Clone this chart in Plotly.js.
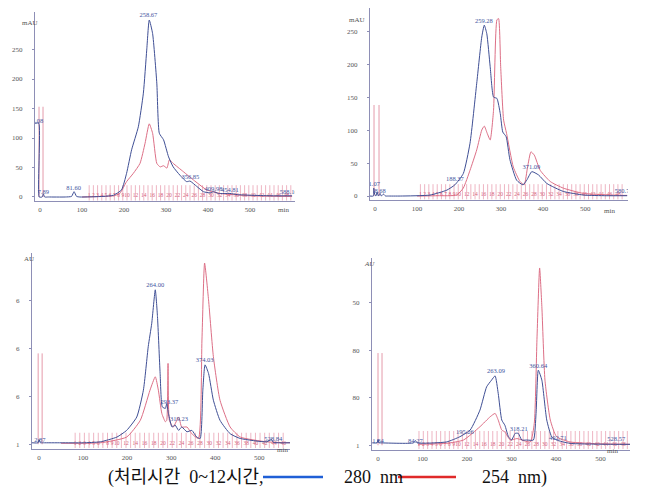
<!DOCTYPE html>
<html><head><meta charset="utf-8">
<script src="https://cdn.plot.ly/plotly-3.0.1.min.js"></script>
<style>html,body{margin:0;padding:0;background:#fff}#chart{width:648px;height:499px}</style>
</head><body><div id="chart"></div>
<script>
// ---------- data: panel 1 (top-left, mAU) ----------
const p1_t_blue = [-12,-3,-2,5,8,11,20,60,75,81,87,95,150,175,194,206,218,234,246,254,260,268,278,284,294,306,317,333,349,357,373,389,405,413,425,452,470,500,550,600];
const p1_v_blue = [125,125,0,0,5,0,0,0,1,9,1,0,1,3,12,40,80,119,176,249,300,277,193,108,97,68,51,37,26,27,18,9,7,9,6,6,4,3,2,2];
const p1_t_red  = [100,150,175,190,206,222,238,250,260,268,278,286,294,302,308,317,341,365,397,429,500,600];
const p1_v_red  = [0,1,2,6,26,40,57,91,124,108,57,51,53,49,63,57,43,29,12,6,2,1];
const p1_peak_t = [-6,8,80,258,358,413,452,592];
const p1_peak_v = [122,2,9,302,28,8,6,3];
const p1_peak_txt = ["3.08","7.89","81.60","258.67","356.85","409.98","454.81","588.16"];
const p1_inject_t = [-2.4,7.1];
const p1_inject_h = 153;

// ---------- data: panel 2 (top-right, mAU) ----------
const p2_t_blue = [-12,-4,-3,-1,2,5,8,12,15,20,25,30,60,131,171,190,210,226,242,254,260,266,274,282,290,298,304,312,321,337,352,361,373,389,409,448,496,550,600];
const p2_v_blue = [0,0,12,3,0,6,0,4,0,3,0,0,0,1.5,9,17,34,80,171,241,259,246,196,150,148,125,97,90,55,24,17,24,37,32,19,7,1.5,0.5,0.5];
const p2_t_red  = [100,150,194,210,226,242,254,260,267,274,282,290,294,299,306,313,329,345,355,363,371,379,393,417,448,496,583,600];
const p2_v_red  = [0,0.5,1.5,12,39,70,100,106,95,85,130,267,269,196,115,95,44,22,17,44,67,62,39,22,12,4,1,1];
const p2_peak_t = [-2,12,190,259,372,592];
const p2_peak_v = [12,2,20,260,38,2];
const p2_peak_txt = ["1.07","8.68","188.37","259.28","371.09","580.73"];
const p2_inject_t = [-2.4,9.5];
const p2_inject_h = 138;

// ---------- data: panel 3 (bottom-left, AU) ----------
const p3_t_blue = [-16,-2,0,3,6,10,50,100,139,177,199,222,237,248,256,264,269,275,280,287,290,294,302,309,317,324,336,347,358,366,372,377,385,396,411,434,457,517,528,532,570];
const p3_v_blue = [0.03,0.03,0.1,0.03,0.03,0.03,0.03,0.03,0.05,0.15,0.29,0.57,1.13,2.04,2.53,3.23,2.67,1.48,0.78,0.75,0.85,0.64,0.36,0.40,0.29,0.36,0.26,0.29,0.15,0.12,1.13,1.66,1.48,0.92,0.50,0.22,0.12,0.05,0.1,0.04,0.03];
const p3_t_red  = [50,139,199,230,252,264,271,279,287,290,293,296,305,317,324,336,347,362,370,376,385,396,411,434,457,517,570];
const p3_v_red  = [0.02,0.03,0.15,0.5,1.13,1.41,1.13,0.64,0.47,0.5,1.69,0.5,0.36,0.57,0.36,0.36,0.22,0.12,2.18,3.79,3.02,1.83,0.92,0.36,0.15,0.05,0.03];
const p3_peak_t = [2,264,296,318,376,532];
const p3_peak_v = [0.02,3.25,0.8,0.45,1.68,0.03];
const p3_peak_txt = ["2.87","264.00","293.37","319.23","374.03","528.84"];
const p3_inject_t = [-2,7];
const p3_inject_h = 1.9;
const p3_yticks = [0,1,2,3];
const p3_yticktext = ["1","6","6","6"];

// ---------- data: panel 4 (bottom-right, AU) ----------
const p4_t_blue = [-13,-2,0,2,5,80,84,88,154,184,207,229,244,255,263,270,278,285,293,300,308,315,323,334,349,355,360,368,379,390,401,431,529,566];
const p4_v_blue = [0.05,0.05,0.12,0.05,0.05,0.05,0.1,0.05,0.07,0.18,0.32,0.74,1.23,1.37,1.46,1.09,0.53,0.42,0.18,0.11,0.25,0.25,0.11,0.11,0.11,0.67,1.58,1.37,0.53,0.18,0.11,0.04,0.02,0.02];
const p4_t_red  = [90,154,192,229,252,263,270,278,285,297,312,342,351,357,363,368,375,387,401,431,500,566];
const p4_v_red  = [0.02,0.04,0.11,0.39,0.6,0.67,0.53,0.32,0.28,0.11,0.14,0.07,0.46,2.22,3.73,2.92,1.37,0.53,0.18,0.07,0.03,0.02];
const p4_peak_t = [0,84,195,265,316,360,404,535];
const p4_peak_v = [0.02,0.02,0.2,1.48,0.27,1.6,0.08,0.05];
const p4_peak_txt = ["1.84","84.27","195.26","263.09","318.21","360.64","402.71","528.57"];
const p4_inject_t = [0,9];
const p4_inject_h = 1.94;
const p4_yticks = [0,1,2,3];
const p4_yticktext = ["1","80","80","50"];

// fraction collector: first fraction time, interval (min), count
const fractions = [
  {start:117, step:10, count:49},
  {start:108, step:10, count:49},
  {start:82, step:10.5, count:46},
  {start:92, step:9.75, count:49}
];
const xTicks = [0,100,200,300,400,500];
const muTicks = [0,50,100,150,200,250];

// ---------- styles ----------
const BLUE = '#3f4f95', RED = '#dd6f86', FRAC = '#eaa2b4', AXIS = '#8e8fb6', LBL = '#3f55a0';
const SERIF = 'Liberation Serif, DejaVu Serif, serif';

const panels = [
  {tb:p1_t_blue,vb:p1_v_blue,tr:p1_t_red,vr:p1_v_red,pt:p1_peak_t,pv:p1_peak_v,ptx:p1_peak_txt,it:p1_inject_t,ih:p1_inject_h,fh:[-6,20],fl:2},
  {tb:p2_t_blue,vb:p2_v_blue,tr:p2_t_red,vr:p2_v_red,pt:p2_peak_t,pv:p2_peak_v,ptx:p2_peak_txt,it:p2_inject_t,ih:p2_inject_h,fh:[-5,18],fl:2},
  {tb:p3_t_blue,vb:p3_v_blue,tr:p3_t_red,vr:p3_v_red,pt:p3_peak_t,pv:p3_peak_v,ptx:p3_peak_txt,it:p3_inject_t,ih:p3_inject_h,fh:[-0.08,0.24],fl:0.02},
  {tb:p4_t_blue,vb:p4_v_blue,tr:p4_t_red,vr:p4_v_red,pt:p4_peak_t,pv:p4_peak_v,ptx:p4_peak_txt,it:p4_inject_t,ih:p4_inject_h,fh:[-0.08,0.3],fl:0.02}
];

const traces = [];
panels.forEach((p, i) => {
  const xa = 'x' + (i ? i+1 : ''), ya = 'y' + (i ? i+1 : '');
  // fraction marks
  const f = fractions[i];
  const fx = [], fy = [], lx = [], ly = [], lt = [];
  for (let n = 1; n <= f.count; n++) {
    const t = f.start + (n-1)*f.step;
    fx.push(t, t, null); fy.push(p.fh[0], p.fh[1], null);
    if (n < 10 || n % 2 === 0) { lx.push(t); ly.push(p.fl); lt.push(String(n)); }
  }
  traces.push({x:fx, y:fy, xaxis:xa, yaxis:ya, mode:'lines', line:{color:FRAC, width:0.8}, hoverinfo:'skip', showlegend:false});
  traces.push({x:lx, y:ly, xaxis:xa, yaxis:ya, mode:'text', text:lt, textposition:'middle center',
    textfont:{family:SERIF, size:5.5, color:'#d4607a'}, hoverinfo:'skip', showlegend:false});
  // injection markers
  const ix = [], iy = [];
  p.it.forEach(t => { ix.push(t, t, null); iy.push(0, p.ih, null); });
  traces.push({x:ix, y:iy, xaxis:xa, yaxis:ya, mode:'lines', line:{color:'#e59aaa', width:1}, hoverinfo:'skip', showlegend:false});
  // signals
  traces.push({x:p.tr, y:p.vr, xaxis:xa, yaxis:ya, mode:'lines', name:'254 nm', line:{color:RED, width:1, shape:'spline', smoothing:0.5}, showlegend:false});
  traces.push({x:p.tb, y:p.vb, xaxis:xa, yaxis:ya, mode:'lines', name:'280 nm', line:{color:BLUE, width:1, shape:'spline', smoothing:0.5}, showlegend:false});
  // peak labels
  traces.push({x:p.pt, y:p.pv, xaxis:xa, yaxis:ya, mode:'text', text:p.ptx, textposition:'top center',
    textfont:{family:SERIF, size:6.5, color:LBL}, hoverinfo:'skip', showlegend:false});
});

function xax(dom, range, anchor) {
  return {domain:dom, range:range, anchor:anchor, showline:true, linecolor:AXIS, linewidth:1, showgrid:false, zeroline:false,
    tickvals:xTicks, ticks:'', ticklabelstandoff:2, tickfont:{family:SERIF, size:7, color:'#555'}};
}
function yax(dom, range, anchor, vals, txt) {
  const a = {domain:dom, range:range, anchor:anchor, showline:true, linecolor:AXIS, linewidth:1, showgrid:false, zeroline:false,
    tickvals:vals, ticks:'outside', ticklen:2, tickcolor:AXIS, ticklabelstandoff:8, tickfont:{family:SERIF, size:7, color:'#555'}};
  if (txt) a.ticktext = txt;
  return a;
}
const W = 648, H = 499;
const px = v => v / W, py = v => 1 - v / H;

const layout = {
  width:W, height:H, margin:{l:0, r:0, t:0, b:0}, paper_bgcolor:'#fff', plot_bgcolor:'rgba(0,0,0,0)', showlegend:false,
  xaxis:  xax([px(35), px(295)], [-12, 607], 'y'),
  yaxis:  yax([py(201), py(12)], [-6.8, 313.6], 'x', muTicks),
  xaxis2: xax([px(370), px(628)], [-12, 602], 'y2'),
  yaxis2: yax([py(200), py(8)], [-6, 285], 'x2', muTicks),
  xaxis3: xax([px(32), px(290)], [-16, 570], 'y3'),
  yaxis3: yax([py(449), py(253)], [-0.1, 4.0], 'x3', p3_yticks, p3_yticktext),
  xaxis4: xax([px(372), px(630)], [-13.5, 566], 'y4'),
  yaxis4: yax([py(450), py(258)], [-0.1, 3.94], 'x4', p4_yticks, p4_yticktext),
  annotations: [
    {text:'mAU', x:px(20), y:py(17), xref:'paper', yref:'paper', showarrow:false, font:{family:SERIF, size:7, color:'#555'}},
    {text:'mAU', x:px(357), y:py(14), xref:'paper', yref:'paper', showarrow:false, font:{family:SERIF, size:7, color:'#555'}},
    {text:'AU', x:px(22), y:py(259), xref:'paper', yref:'paper', showarrow:false, font:{family:SERIF, size:7, color:'#555'}},
    {text:'<i>AU</i>', x:px(369), y:py(264), xref:'paper', yref:'paper', showarrow:false, font:{family:SERIF, size:7, color:'#555'}},
    {text:'min', x:px(283), y:py(210), xref:'paper', yref:'paper', showarrow:false, font:{family:SERIF, size:7, color:'#555'}},
    {text:'min', x:px(617), y:py(211), xref:'paper', yref:'paper', showarrow:false, font:{family:SERIF, size:7, color:'#555'}},
    {text:'min', x:px(282), y:py(456), xref:'paper', yref:'paper', showarrow:false, font:{family:SERIF, size:7, color:'#555'}},
    {text:'min', x:px(620), y:py(457), xref:'paper', yref:'paper', showarrow:false, font:{family:SERIF, size:7, color:'#555'}},
    {text:'(처리시간&nbsp;&nbsp;0~12시간,', x:px(106), y:py(477), xref:'paper', yref:'paper', xanchor:'left', yanchor:'middle', showarrow:false,
      font:{family:'Liberation Serif, Noto Sans CJK KR', size:18, color:'#111'}},
    {text:'280&nbsp;&nbsp;nm', x:px(342), y:py(477), xref:'paper', yref:'paper', xanchor:'left', yanchor:'middle', showarrow:false,
      font:{family:SERIF, size:18, color:'#111'}},
    {text:'254&nbsp;&nbsp;nm)', x:px(480), y:py(477), xref:'paper', yref:'paper', xanchor:'left', yanchor:'middle', showarrow:false,
      font:{family:SERIF, size:18, color:'#111'}}
  ],
  shapes: [
    {type:'line', xref:'paper', yref:'paper', x0:px(263), x1:px(323), y0:py(477), y1:py(477), line:{color:'#1f5fd6', width:2.5}},
    {type:'line', xref:'paper', yref:'paper', x0:px(398), x1:px(456), y0:py(477), y1:py(477), line:{color:'#e02a2a', width:2.5}}
  ]
};
Plotly.newPlot('chart', traces, layout, {staticPlot:true, displayModeBar:false});
</script>
</body></html>
